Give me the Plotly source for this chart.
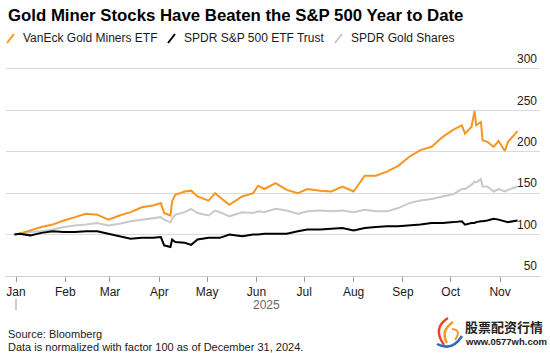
import pandas as pd
import plotly.graph_objects as go

# ---------------- data ----------------
dates = [
    "2024-12-31", "2025-01-03", "2025-01-10", "2025-01-17", "2025-01-24", "2025-01-31",
    "2025-02-07", "2025-02-14", "2025-02-21", "2025-02-28", "2025-03-07", "2025-03-14",
    "2025-03-21", "2025-03-28", "2025-04-02", "2025-04-04", "2025-04-08", "2025-04-09",
    "2025-04-11", "2025-04-17", "2025-04-21", "2025-04-25", "2025-05-02", "2025-05-06",
    "2025-05-09", "2025-05-15", "2025-05-23", "2025-05-30", "2025-06-02", "2025-06-06",
    "2025-06-13", "2025-06-20", "2025-06-27", "2025-07-03", "2025-07-11", "2025-07-18",
    "2025-07-25", "2025-08-01", "2025-08-08", "2025-08-15", "2025-08-22", "2025-08-29",
    "2025-09-05", "2025-09-12", "2025-09-19", "2025-09-26", "2025-10-03", "2025-10-08",
    "2025-10-10", "2025-10-14", "2025-10-16", "2025-10-17", "2025-10-20", "2025-10-21",
    "2025-10-24", "2025-10-28", "2025-10-31", "2025-11-04", "2025-11-06", "2025-11-12",
]

gold_miners = [
    100, 101, 105, 109, 112, 117, 121, 125, 124, 118,
    123, 127, 133, 135, 138, 126, 123, 140, 148, 152,
    153, 146, 141, 150, 145, 136, 146, 150, 159, 155,
    162, 154, 150, 155, 153, 152, 158, 152, 171, 171,
    176, 183, 194, 202, 206, 218, 227, 232, 222, 230,
    249, 232, 236, 214, 212, 206, 213, 201, 212, 225,
]

sp500 = [
    100, 101, 99, 102, 104, 103, 103, 104, 104, 101,
    98, 95, 96, 96, 97, 87, 85, 94, 91, 90,
    87.5, 94, 96, 96, 96, 100, 98, 100, 100, 101,
    101, 101, 104, 106, 106, 107, 108, 105, 108, 109,
    110, 110, 111, 112, 114, 114, 115, 116, 112, 114,
    114, 115, 116, 116, 117, 119, 118, 116, 115, 117,
]

gold = [
    100, 101, 103, 104, 106, 109, 111, 112, 114, 111,
    113, 116, 118, 120, 121, 118, 115, 119, 124, 127,
    131, 126, 123, 129, 127, 122, 127, 126, 128, 127,
    131, 129, 125, 128, 129, 128, 129, 127, 130, 128,
    128, 132, 138, 141, 143, 146, 149, 155, 155, 160,
    164, 163, 167, 158, 158, 152, 155, 152, 154, 158,
]

series_names = ["VanEck Gold Miners ETF", "SPDR S&P 500 ETF Trust", "SPDR Gold Shares"]
y_ticks = [50, 100, 150, 200, 250, 300]
year_label = "2025"
title_text = "Gold Miner Stocks Have Beaten the S&P 500 Year to Date"
source_lines = ["Source: Bloomberg", "Data is normalized with factor 100 as of December 31, 2024."]

# ---------------- styling / layout helpers ----------------
ORANGE = "#F7961E"
BLACK = "#000000"
GRAY = "#C9C9C9"
FONT = "Liberation Sans, Arial, sans-serif"

W, H = 550, 353
L, R, T, B = 6, 10, 48, 77
PW, PH = W - L - R, H - T - B
# vertical scale: 250 units over 207 px (50 at y=276, 300 at y=69)
Y_LO = 49.9
Y_HI = 300 + (69 - T) * 250 / 207


def px(x):
    return (x - L) / PW


def py(y):
    return (H - B - y) / PH


x_start = pd.Timestamp("2024-12-25 17:00")
x_end = pd.Timestamp("2025-11-26 02:00")

fig = go.Figure()
for vals, name, color in [(gold, series_names[2], GRAY),
                          (gold_miners, series_names[0], ORANGE),
                          (sp500, series_names[1], BLACK)]:
    fig.add_trace(go.Scatter(x=pd.to_datetime(dates), y=vals, mode="lines", name=name,
                             line=dict(color=color, width=2), hoverinfo="skip"))

fig.update_layout(
    width=W, height=H,
    margin=dict(l=L, r=R, t=T, b=B, autoexpand=False),
    paper_bgcolor="white", plot_bgcolor="white",
    showlegend=False,
    font=dict(family=FONT, size=12, color="#1a1a1a"),
)
fig.update_xaxes(
    type="date", range=[x_start, x_end], automargin=False,
    tick0="2025-01-01", dtick="M1", tickformat="%b",
    ticks="outside", ticklen=5, tickwidth=1, tickcolor="#9a9a9a",
    showline=True, linecolor="#cfcfcf", linewidth=1,
    showgrid=False, zeroline=False,
    tickfont=dict(size=12, color="#1a1a1a"),
)
fig.update_yaxes(
    range=[Y_LO, Y_HI], tickvals=y_ticks, automargin=False,
    side="right", ticklabelposition="inside", ticklabelshift=-10,
    showgrid=True, gridcolor="#dadada", gridwidth=1,
    zeroline=False, showline=False, ticks="",
    tickfont=dict(size=12, color="#222222"),
)

shapes = []
annotations = []

# title
annotations.append(dict(text="<b>" + title_text + "</b>", xref="paper", yref="paper",
                        x=px(6), y=py(15), xanchor="left", yanchor="middle", showarrow=False,
                        font=dict(size=16.8, color="#000000", family=FONT)))

# custom legend with slash markers
legend_items = [(series_names[0], ORANGE, 7), (series_names[1], BLACK, 168), (series_names[2], GRAY, 335)]
for name, color, x0 in legend_items:
    shapes.append(dict(type="line", xref="paper", yref="paper",
                       x0=px(x0), y0=py(43), x1=px(x0 + 7), y1=py(34),
                       line=dict(color=color, width=2)))
    annotations.append(dict(text=name, xref="paper", yref="paper", x=px(x0 + 14), y=py(37.5),
                            xanchor="left", yanchor="middle", showarrow=False,
                            font=dict(size=12, color="#1a1a1a", family=FONT)))

# year separator tick and year label
span = (x_end - x_start)
jan1 = pd.Timestamp("2025-01-01")
xj = (jan1 - x_start) / span
shapes.append(dict(type="line", xref="paper", yref="paper", x0=xj, x1=xj,
                   y0=py(299), y1=py(310), line=dict(color="#9a9a9a", width=1)))
mid = pd.Timestamp(dates[0]) + (pd.Timestamp(dates[-1]) - pd.Timestamp(dates[0])) / 2
annotations.append(dict(text=year_label, xref="x", yref="paper", x=mid, y=py(305),
                        xanchor="center", yanchor="middle", showarrow=False,
                        font=dict(size=12, color="#666666", family=FONT)))

# footer
for i, line in enumerate(source_lines):
    annotations.append(dict(text=line, xref="paper", yref="paper", x=px(6), y=py(334 + 13 * i),
                            xanchor="left", yanchor="middle", showarrow=False,
                            font=dict(size=11, color="#1a1a1a", family=FONT)))

# watermark
annotations.append(dict(text="<b>股票配资行情</b>", xref="paper", yref="paper", x=px(463), y=py(326),
                        xanchor="left", yanchor="middle", showarrow=False,
                        font=dict(size=13, color="#222222", family="Noto Sans CJK SC")))
annotations.append(dict(text="<b>www.0577wh.com</b>", xref="paper", yref="paper", x=px(463), y=py(341),
                        xanchor="left", yanchor="middle", showarrow=False,
                        font=dict(size=9.5, color="#222222", family=FONT)))


def qpath(p0, c, p1):
    return "M {} {} Q {} {} {} {}".format(px(p0[0]), py(p0[1]), px(c[0]), py(c[1]), px(p1[0]), py(p1[1]))


logo = [
    ((448, 318), (432, 328), (444, 345), "#E8432B", 2.5),
    ((453, 322), (440, 331), (447, 343), "#F39A1E", 2.5),
    ((437, 344), (452, 352), (462, 336), "#2E6DB4", 2.5),
    ((452, 329), (462, 330), (455, 340), "#F39A1E", 2),
]
for p0, c, p1, col, w in logo:
    shapes.append(dict(type="path", xref="paper", yref="paper", path=qpath(p0, c, p1),
                       line=dict(color=col, width=w)))

fig.update_layout(shapes=shapes, annotations=annotations)
fig.write_html("out.html")
